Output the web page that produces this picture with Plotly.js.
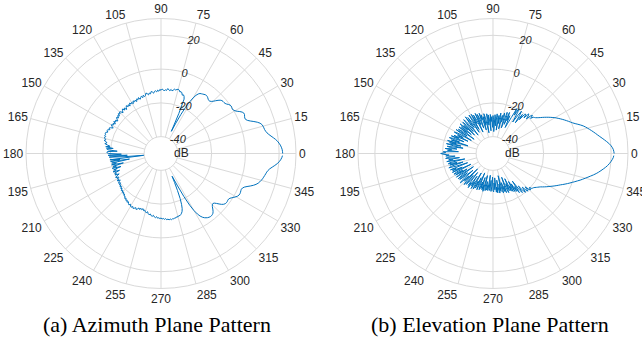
<!DOCTYPE html>
<html>
<head>
<meta charset="utf-8">
<script src="https://cdn.plot.ly/plotly-3.0.1.min.js"></script>
<style>html,body{margin:0;padding:0;background:#fff;}#chart{width:642px;height:343px;}</style>
</head>
<body>
<div id="chart"></div>
<script>
// Angle step (degrees) of both measured patterns: values start at 0° and go up by 1°.
const angleStart = 0;
const angleStep = 1;

// Azimuth plane pattern, dB, one value per degree from 0° to 359°
const azimuthDb = [
  22.1, 22.0, 21.8, 21.4, 20.9, 20.2, 19.4, 18.4, 17.2, 16.0, 14.9, 14.0, 13.4, 13.0, 12.8,
  12.6, 12.2, 11.4, 10.0, 8.2, 6.3, 4.8, 4.0, 3.9, 4.2, 4.6, 4.6, 4.0, 2.9, 1.6,
  0.6, 0.0, -0.2, 0.0, 0.2, 0.0, -0.6, -1.3, -1.8, -2.0, -2.0, -2.2, -2.8, -3.8, -5.0,
  -6.2, -7.1, -7.6, -7.7, -7.4, -6.9, -6.5, -6.3, -6.4, -6.7, -7.0, -7.3, -7.6, -8.4, -9.8,
  -12.0, -15.0, -19.0, -24.0, -30.0, -35.5, -24.0, -15.0, -13.5, -12.8, -13.2, -12.0, -11.5, -11.8, -10.9,
  -10.6, -10.9, -11.4, -11.0, -11.7, -12.3, -11.6, -12.4, -12.0, -11.3, -12.5, -12.1, -12.9, -12.2, -11.8,
  -12.6, -12.0, -13.1, -12.4, -13.4, -12.7, -13.0, -14.0, -13.2, -12.8, -14.1, -13.5, -14.5, -13.6, -13.1,
  -14.4, -14.9, -13.9, -15.2, -14.1, -14.8, -15.6, -14.3, -15.3, -14.6, -16.0, -14.9, -15.6, -14.7, -16.2,
  -15.1, -15.7, -14.8, -16.4, -15.2, -16.1, -15.0, -15.8, -16.9, -15.3, -16.4, -15.1, -15.9, -17.0, -15.6,
  -15.2, -16.3, -15.4, -16.8, -15.9, -17.2, -16.1, -16.9, -18.0, -16.6, -17.4, -16.2, -17.8, -16.5, -17.1,
  -16.0, -16.8, -17.9, -16.4, -15.7, -16.6, -15.5, -15.2, -16.1, -15.0, -14.8, -15.3, -14.9, -15.8, -15.1,
  -15.6, -16.3, -15.4, -16.9, -17.3, -16.2, -17.8, -19.5, -17.0, -21.5, -17.6, -18.4, -24.0, -18.2, -17.9,
  -19.0, -26.5, -18.6, -30.0, -19.2, -28.0, -46.0, -19.5, -25.5, -19.8, -31.0, -20.3, -23.0, -20.0, -27.0,
  -20.6, -22.5, -19.8, -25.0, -20.4, -21.8, -19.6, -23.5, -20.2, -21.0, -19.9, -22.4, -20.5, -19.6, -21.3,
  -20.1, -20.8, -19.4, -21.2, -20.0, -19.3, -20.4, -19.1, -19.8, -18.7, -19.5, -18.4, -19.0, -17.8, -18.5,
  -17.5, -18.2, -17.1, -17.7, -16.6, -16.9, -15.8, -16.4, -15.3, -15.9, -14.8, -15.5, -14.6, -14.1, -14.9,
  -14.0, -13.6, -14.4, -13.5, -13.9, -14.6, -13.7, -14.3, -15.2, -14.5, -15.4, -14.8, -15.6, -14.6, -15.1,
  -14.2, -13.8, -14.6, -13.5, -13.0, -13.6, -12.7, -12.4, -13.1, -12.2, -11.8, -12.5, -11.6, -11.9, -11.4,
  -11.8, -11.2, -11.5, -10.9, -11.3, -10.6, -10.9, -10.4, -10.8, -10.3, -10.7, -10.5, -11.0, -10.8, -11.4,
  -11.1, -11.7, -11.5, -12.0, -12.6, -13.5, -15.0, -17.5, -21.0, -26.0, -31.0, -35.0, -29.0, -21.0, -15.0,
  -11.0, -8.2, -6.3, -5.0, -4.1, -3.5, -3.0, -2.7, -2.5, -2.5, -2.7, -3.1, -3.9, -5.0, -6.2,
  -7.0, -7.3, -6.9, -5.8, -4.4, -3.1, -2.2, -1.7, -1.5, -1.5, -1.7, -1.7, -1.3, -0.5, 0.4,
  1.3, 2.0, 2.4, 2.5, 2.4, 2.2, 2.1, 2.4, 3.2, 4.6, 6.3, 7.9, 9.2, 10.2, 10.9,
  11.5, 12.0, 12.4, 12.8, 13.2, 13.6, 14.2, 15.1, 16.4, 17.8, 19.1, 20.2, 21.0, 21.6, 22.0
];

// Elevation plane pattern, dB, one value per degree from 0° to 359°
const elevationDb = [
  21.8, 21.6, 21.3, 20.7, 19.9, 18.9, 17.7, 16.5, 15.3, 14.1, 13.0, 12.0, 11.0, 10.0, 9.0,
  8.0, 7.0, 5.9, 4.6, 3.2, 1.8, 0.6, -0.4, -1.3, -2.2, -3.1, -4.0, -4.9, -5.8, -6.7,
  -7.6, -8.6, -9.6, -10.6, -11.6, -12.6, -13.6, -14.6, -15.5, -16.3, -17.0, -17.5, -17.9, -19.5, -17.5,
  -18.6, -21.5, -19.0, -18.4, -22.0, -19.6, -20.2, -24.5, -21.0, -27.5, -22.5, -19.8, -23.5, -28.0, -21.5,
  -19.5, -24.0, -19.8, -26.0, -30.0, -33.0, -25.5, -29.0, -23.8, -31.5, -26.0, -24.2, -34.0, -27.5, -25.0,
  -30.5, -26.8, -35.0, -28.0, -25.6, -32.0, -27.2, -36.0, -28.5, -26.4, -33.5, -29.0, -27.0, -37.0, -30.0,
  -27.5, -34.5, -28.2, -31.0, -26.8, -36.5, -29.5, -27.0, -33.0, -26.2, -30.5, -37.5, -28.0, -25.8, -32.5,
  -27.4, -35.5, -26.0, -29.0, -24.8, -34.0, -27.5, -25.0, -31.5, -24.0, -36.0, -28.0, -24.5, -30.0, -23.5,
  -33.5, -26.5, -23.2, -35.0, -27.8, -24.0, -31.0, -22.8, -29.5, -36.0, -25.5, -23.5, -32.5, -27.0, -24.2,
  -34.5, -26.0, -29.5, -23.8, -33.0, -25.5, -30.5, -24.5, -36.0, -27.5, -25.0, -31.5, -24.0, -28.5, -35.0,
  -25.8, -23.8, -30.0, -26.5, -33.5, -24.5, -28.0, -23.2, -31.5, -25.0, -22.5, -29.0, -24.0, -34.5, -22.0,
  -27.5, -23.5, -30.5, -21.8, -26.0, -32.0, -22.5, -24.5, -28.5, -21.5, -25.5, -23.0, -29.5, -20.5, -22.0,
  -19.0, -21.0, -24.0, -22.0, -27.5, -23.0, -21.8, -30.0, -23.5, -26.0, -22.2, -33.0, -24.0, -22.8, -28.0,
  -23.5, -31.5, -24.5, -22.5, -27.0, -34.0, -23.0, -26.5, -24.0, -30.0, -23.5, -35.5, -25.5, -23.8, -29.5,
  -24.5, -32.0, -26.0, -24.2, -36.0, -27.0, -24.5, -31.0, -25.0, -28.5, -34.5, -25.5, -24.0, -30.5, -26.5,
  -37.0, -27.5, -24.8, -32.5, -25.8, -29.0, -35.5, -26.0, -28.5, -25.0, -33.5, -27.0, -30.0, -25.5, -36.5,
  -28.0, -26.0, -31.5, -27.0, -34.0, -28.5, -26.5, -37.5, -29.0, -27.0, -32.0, -28.0, -35.0, -27.5, -30.5,
  -26.8, -36.5, -28.5, -27.5, -33.0, -28.0, -31.0, -27.8, -37.0, -29.0, -28.0, -34.0, -27.5, -30.5, -36.0,
  -28.0, -27.2, -32.5, -28.5, -35.5, -27.0, -30.0, -26.5, -34.0, -28.0, -26.2, -31.5, -27.0, -36.5, -27.5,
  -25.8, -32.0, -26.5, -29.5, -25.5, -35.0, -27.0, -25.0, -30.5, -26.0, -33.5, -25.2, -28.5, -24.5, -31.0,
  -24.0, -29.0, -23.5, -26.5, -22.0, -30.0, -23.0, -21.0, -25.5, -21.8, -20.0, -23.5, -20.8, -19.5, -22.5,
  -19.8, -19.0, -20.5, -19.0, -18.8, -18.5, -18.0, -17.4, -16.8, -16.2, -15.5, -14.6, -13.7, -12.8, -11.9,
  -11.0, -10.0, -9.0, -8.0, -7.0, -6.0, -4.8, -3.6, -2.4, -1.2, 0.0, 1.3, 2.6, 4.0, 5.3,
  6.6, 8.0, 9.4, 10.9, 12.3, 13.6, 14.8, 16.0, 17.2, 18.3, 19.2, 20.0, 20.7, 21.3, 21.6
];

// Axis ticks
const angleTicks = [0, 15, 30, 45, 60, 75, 90, 105, 120, 135, 150, 165, 180,
                    195, 210, 225, 240, 255, 270, 285, 300, 315, 330, 345];
const angleTickText = angleTicks.map(String);
const radialTicks = [-40, -20, 0, 20];
const radialTickText = ['-40', '-20', '0', '20'];
const radialRange = [-40, 30];
const captions = ['(a) Azimuth Plane Pattern', '(b) Elevation Plane Pattern'];
const centerLabel = 'dB';

const lineColor = '#0072BD';
const gridColor = '#d9d9d9';
const textColor = '#262626';
const sans = "'Liberation Sans', Arial, Helvetica, sans-serif";
const serif = "'Liberation Serif', 'Times New Roman', Times, serif";

const traces = [
  {type: 'scatterpolar', mode: 'lines', r: azimuthDb, theta0: angleStart, dtheta: angleStep,
   line: {color: lineColor, width: 1}, subplot: 'polar', hoverinfo: 'skip'},
  {type: 'scatterpolar', mode: 'lines', r: elevationDb, theta0: angleStart, dtheta: angleStep,
   line: {color: lineColor, width: 1}, subplot: 'polar2', hoverinfo: 'skip'}
];

function polarCfg(xdom) {
  return {
    domain: {x: xdom, y: [0.1589, 0.9461]},
    hole: 0.125,
    bgcolor: '#ffffff',
    angularaxis: {
      direction: 'counterclockwise', rotation: 0,
      tickmode: 'array', tickvals: angleTicks, ticktext: angleTickText,
      showgrid: true, gridcolor: gridColor, gridwidth: 1,
      showline: true, linecolor: gridColor, linewidth: 1,
      ticks: '', tickfont: {family: sans, size: 12, color: textColor}
    },
    radialaxis: {
      range: radialRange, tickmode: 'array', tickvals: radialTicks, ticktext: radialTickText,
      angle: 80, tickangle: 80, side: 'clockwise',
      showgrid: true, gridcolor: gridColor, gridwidth: 1,
      showline: false, ticks: '',
      tickfont: {family: sans, size: 11, color: textColor, style: 'italic'}
    }
  };
}

const layout = {
  width: 642, height: 343,
  margin: {l: 0, r: 0, t: 0, b: 0},
  paper_bgcolor: '#ffffff',
  showlegend: false,
  font: {family: sans},
  polar: polarCfg([0.0405, 0.4611]),
  polar2: polarCfg([0.5576, 0.9782]),
  annotations: [
    {text: captions[0], xref: 'paper', yref: 'paper', x: 0.2445, y: 0.0525,
     xanchor: 'center', yanchor: 'middle', showarrow: false,
     font: {family: serif, size: 22, color: '#000000'}},
    {text: captions[1], xref: 'paper', yref: 'paper', x: 0.7634, y: 0.0525,
     xanchor: 'center', yanchor: 'middle', showarrow: false,
     font: {family: serif, size: 22, color: '#000000'}},
    {text: centerLabel, xref: 'paper', yref: 'paper', x: 0.283, y: 0.5525,
     xanchor: 'center', yanchor: 'middle', showarrow: false,
     font: {family: sans, size: 12, color: textColor}},
    {text: centerLabel, xref: 'paper', yref: 'paper', x: 0.7986, y: 0.5525,
     xanchor: 'center', yanchor: 'middle', showarrow: false,
     font: {family: sans, size: 12, color: textColor}}
  ]
};

Plotly.newPlot('chart', traces, layout, {staticPlot: true, displayModeBar: false});
</script>
</body>
</html>
